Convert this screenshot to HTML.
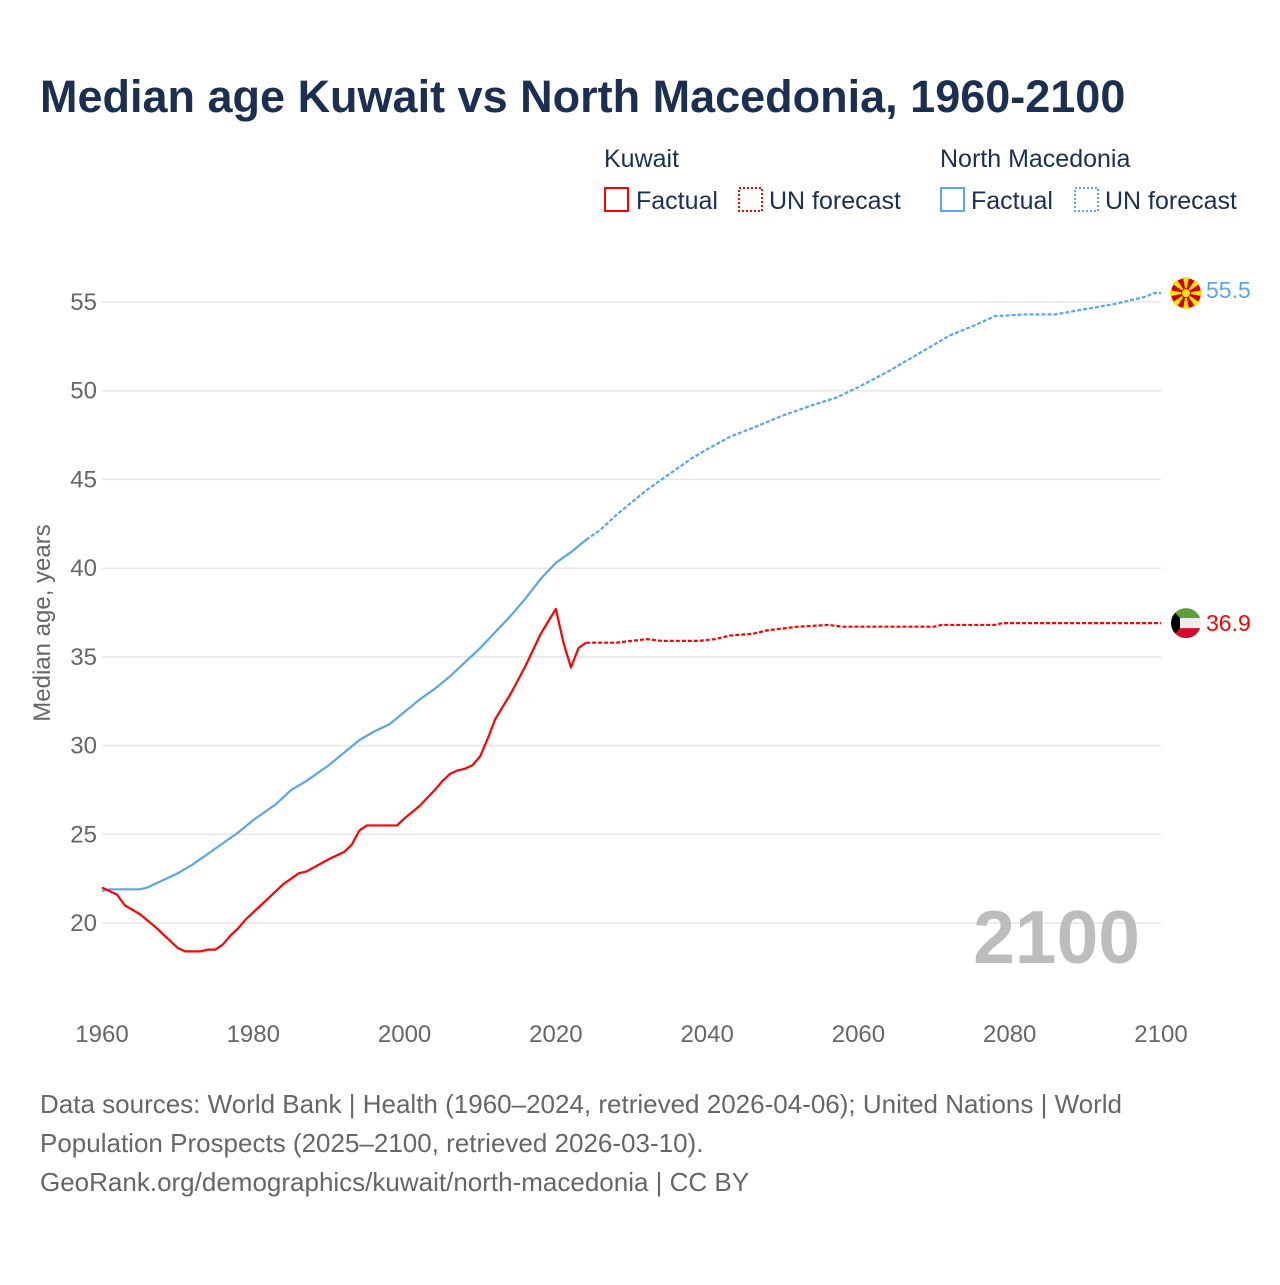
<!DOCTYPE html>
<html><head><meta charset="utf-8"><style>
body{margin:0;background:#fff;font-family:"Liberation Sans",sans-serif}
svg text{font-family:"Liberation Sans",sans-serif}
</style></head><body>
<svg id="c" width="1280" height="1280" viewBox="0 0 1280 1280">
<text x="40" y="112" font-size="45" font-weight="bold" fill="#1b2f52">Median age Kuwait vs North Macedonia, 1960-2100</text>
<g font-size="25" fill="#1b2f52">
<text x="604" y="167">Kuwait</text>
<rect x="605" y="188" width="23" height="23" fill="none" stroke="#ff0000" stroke-width="2"/>
<text x="636" y="209">Factual</text>
<rect x="739" y="188" width="23" height="23" fill="none" stroke="#ff0000" stroke-width="2" stroke-dasharray="2,2"/>
<text x="769" y="209">UN forecast</text>
<text x="940" y="167">North Macedonia</text>
<rect x="941" y="188" width="23" height="23" fill="none" stroke="#5aa5ec" stroke-width="2"/>
<text x="971" y="209">Factual</text>
<rect x="1075" y="188" width="23" height="23" fill="none" stroke="#5aa5ec" stroke-width="2" stroke-dasharray="2,2"/>
<text x="1105" y="209">UN forecast</text>
</g>
<g id="grid"></g>
<text x="1140" y="963" font-size="75" font-weight="bold" fill="#bdbdbd" text-anchor="end">2100</text>
<text transform="translate(50,623) rotate(-90)" font-size="24" fill="#666" text-anchor="middle">Median age, years</text>
<g id="series"></g>
<g font-size="26" fill="#666">
<text x="40" y="1113">Data sources: World Bank | Health (1960–2024, retrieved 2026-04-06); United Nations | World</text>
<text x="40" y="1152">Population Prospects (2025–2100, retrieved 2026-03-10).</text>
<text x="40" y="1191">GeoRank.org/demographics/kuwait/north-macedonia | CC BY</text>
</g>
</svg>
<script>
const xTicks=[1960,1980,2000,2020,2040,2060,2080,2100];
const yTicks=[20,25,30,35,40,45,50,55];
const kwYears=[1960,1962,1963,1965,1967,1969,1970,1971,1973,1974,1975,1976,1977,1978,1979,1980,1982,1984,1986,1987,1990,1992,1993,1994,1995,1999,2000,2002,2004,2005,2006,2007,2008,2009,2010,2011,2012,2014,2016,2017,2018,2019,2020,2021,2022,2023,2024];
const kwFactual=[22.0,21.6,21.0,20.5,19.8,19.0,18.6,18.4,18.4,18.5,18.5,18.8,19.3,19.7,20.2,20.6,21.4,22.2,22.8,22.9,23.6,24.0,24.4,25.2,25.5,25.5,25.9,26.6,27.5,28.0,28.4,28.6,28.7,28.9,29.4,30.4,31.5,32.9,34.5,35.4,36.3,37.0,37.7,35.8,34.4,35.5,35.8];
const kwFYears=[2024,2028,2030,2032,2034,2039,2041,2043,2046,2048,2052,2056,2058,2070,2071,2078,2079,2100];
const kwForecast=[35.8,35.8,35.9,36.0,35.9,35.9,36.0,36.2,36.3,36.5,36.7,36.8,36.7,36.7,36.8,36.8,36.9,36.9];
const mkYears=[1960,1961,1965,1966,1970,1972,1975,1978,1980,1983,1985,1987,1990,1992,1994,1996,1998,2000,2002,2004,2006,2008,2010,2012,2014,2016,2018,2020,2022,2024];
const mkFactual=[21.8,21.9,21.9,22.0,22.8,23.3,24.2,25.1,25.8,26.7,27.5,28.0,28.9,29.6,30.3,30.8,31.2,31.9,32.6,33.2,33.9,34.7,35.5,36.4,37.3,38.3,39.4,40.3,40.9,41.6];
const mkFYears=[2024,2026,2028,2030,2032,2035,2038,2040,2043,2046,2050,2054,2057,2060,2064,2068,2072,2076,2078,2082,2086,2090,2094,2098,2099,2100];
const mkForecast=[41.6,42.2,43.0,43.7,44.4,45.3,46.2,46.7,47.4,47.9,48.6,49.2,49.6,50.2,51.1,52.1,53.1,53.8,54.2,54.3,54.3,54.6,54.9,55.3,55.5,55.5];
const X=y=>102+(y-1960)*(1059/140);
const Y=v=>923-(v-20)*(621/35);
const NS='http://www.w3.org/2000/svg';
const grid=document.getElementById('grid'),ser=document.getElementById('series');
function mk(tag,attrs,parent){const e=document.createElementNS(NS,tag);for(const k in attrs)e.setAttribute(k,attrs[k]);parent.appendChild(e);return e;}
yTicks.forEach(t=>{
 const l=mk('line',{x1:102,x2:1161,y1:Y(t),y2:Y(t),stroke:'#e6e6e6','stroke-width':1.5},grid);
 
 
 const tx=mk('text',{x:97,y:Y(t)+8,'font-size':24,fill:'#666','text-anchor':'end'},grid);tx.textContent=t;
 
 
});
xTicks.forEach(t=>{
 const tx=mk('text',{x:X(t),y:1042,'font-size':24,fill:'#666','text-anchor':'middle'},grid);tx.textContent=t;
 
 
});
function line(xs,vs,color,dash,name){
 const p=mk('polyline',{points:xs.map((y,i)=>X(y)+','+Y(vs[i])).join(' '),fill:'none',stroke:color,'stroke-width':2.2,'stroke-linejoin':'round'},ser);
 if(dash)p.setAttribute('stroke-dasharray','4,2');
 
 
}
line(mkYears,mkFactual,'#5aa5ec',false,'macedonia-factual-line');
line(mkFYears,mkForecast,'#5aa5ec',true,'macedonia-forecast-line');
line(kwYears,kwFactual,'#ff0000',false,'kuwait-factual-line');
line(kwFYears,kwForecast,'#ff0000',true,'kuwait-forecast-line');
const mkv=mkForecast[mkForecast.length-1],kwv=kwForecast[kwForecast.length-1];
const fx=1186;
const gm=mk('g',{},ser);


mk('circle',{cx:fx,cy:Y(mkv),r:15,fill:'#d20000'},gm);
for(let i=0;i<8;i++){const a=i*Math.PI/4;const c=Math.cos(a),s=Math.sin(a);
 mk('polygon',{points:`${fx},${Y(mkv)} ${fx+16*c-3*s},${Y(mkv)+16*s+3*c} ${fx+16*c+3*s},${Y(mkv)+16*s-3*c}`,fill:'#ffe600'},gm);}
mk('circle',{cx:fx,cy:Y(mkv),r:4.5,fill:'#ffe600',stroke:'#d20000','stroke-width':1},gm);
const tm=mk('text',{x:1206,y:Y(mkv)+5,'font-size':23,fill:'#5aa5ec'},ser);tm.textContent=mkv.toFixed(1);


const gk=mk('g',{},ser);


const cy=Y(kwv);
mk('clipPath',{id:'kc'},gk);
mk('circle',{cx:fx,cy:cy,r:15},gk.lastChild);
const kg=mk('g',{'clip-path':'url(#kc)'},gk);
mk('rect',{x:fx-15,y:cy-15,width:30,height:10,fill:'#5c9e3a'},kg);
mk('rect',{x:fx-15,y:cy-5,width:30,height:10,fill:'#eee'},kg);
mk('rect',{x:fx-15,y:cy+5,width:30,height:10,fill:'#d4092c'},kg);
mk('polygon',{points:`${fx-15},${cy-15} ${fx-6},${cy-5} ${fx-6},${cy+5} ${fx-15},${cy+15}`,fill:'#000'},kg);
const tk=mk('text',{x:1206,y:cy+8,'font-size':23,fill:'#ff0000'},ser);tk.textContent=kwv.toFixed(1);


</script>
</body></html>
